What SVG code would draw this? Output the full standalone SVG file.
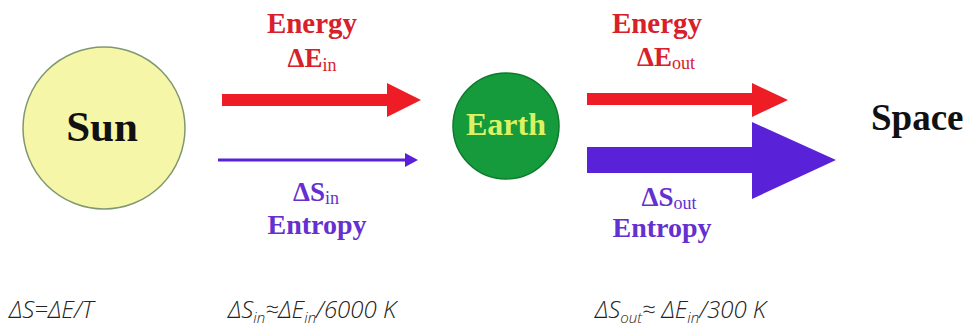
<svg xmlns="http://www.w3.org/2000/svg" width="975" height="327" viewBox="0 0 975 327">
<style>
.lbl{font-family:"Liberation Serif","Times New Roman",serif;font-weight:bold;text-anchor:middle}
.red{fill:#d8202a}
.pur{fill:#6530d0}
.sub{font-size:18px;font-weight:normal}
.eq{font-family:"Open Sans","Liberation Sans",sans-serif;font-style:italic;font-weight:300;font-size:24px;fill:#222}
.eqs{font-size:15px}
</style>
<rect width="975" height="327" fill="#ffffff"/>
<g id="sun">
<circle cx="104" cy="128" r="81" fill="#f6f6a8" stroke="#7f9870" stroke-width="1.5"/>
<text class="lbl" x="102" y="141" font-size="43" fill="#111">Sun</text>
</g>
<g id="earth">
<circle cx="506" cy="126" r="53" fill="#159a3c" stroke="#0e7a2c" stroke-width="1.5"/>
<text class="lbl" x="506" y="135" font-size="32" fill="#dcf262">Earth</text>
</g>
<g id="space">
<text class="lbl" x="871" y="130" font-size="37" fill="#111" style="text-anchor:start">Space</text>
</g>
<g id="connectors">
<polygon points="222,94 387,94 387,83 421,100 387,117 387,106 222,106" fill="#ee1c24"/>
<polygon points="218,158.5 405,158.5 405,153 418,160 405,167 405,161.5 218,161.5" fill="#5a22d8"/>
<polygon points="587,93 752,93 752,83 788,100 752,117 752,105 587,105" fill="#ee1c24"/>
<polygon points="587,147 752,147 752,122 836,160 752,199 752,173 587,173" fill="#5a22d8"/>
</g>
<g id="labels-in">
<text class="lbl red" x="312" y="33" font-size="29">Energy</text>
<text class="lbl red" x="312" y="67" font-size="27">ΔE<tspan class="sub" dy="4">in</tspan></text>
<text class="lbl pur" x="316" y="201" font-size="27">ΔS<tspan class="sub" dy="3">in</tspan></text>
<text class="lbl pur" x="317" y="234" font-size="28">Entropy</text>
</g>
<g id="labels-out">
<text class="lbl red" x="657" y="33" font-size="29">Energy</text>
<text class="lbl red" x="666" y="66" font-size="27">ΔE<tspan class="sub" dy="3">out</tspan></text>
<text class="lbl pur" x="669" y="206" font-size="27">ΔS<tspan class="sub" dy="3">out</tspan></text>
<text class="lbl pur" x="662" y="237" font-size="28">Entropy</text>
</g>
<g id="formulas">
<text class="eq" x="9" y="318">ΔS=ΔE/T</text>
<text class="eq" x="228" y="318">ΔS<tspan class="eqs" dy="5">in</tspan><tspan dy="-5">≈ΔE</tspan><tspan class="eqs" dy="5">in</tspan><tspan dy="-5">/6000 K</tspan></text>
<text class="eq" x="595" y="318">ΔS<tspan class="eqs" dy="5">out</tspan><tspan dy="-5">≈ ΔE</tspan><tspan class="eqs" dy="5">in</tspan><tspan dy="-5">/300 K</tspan></text>
</g>
</svg>
